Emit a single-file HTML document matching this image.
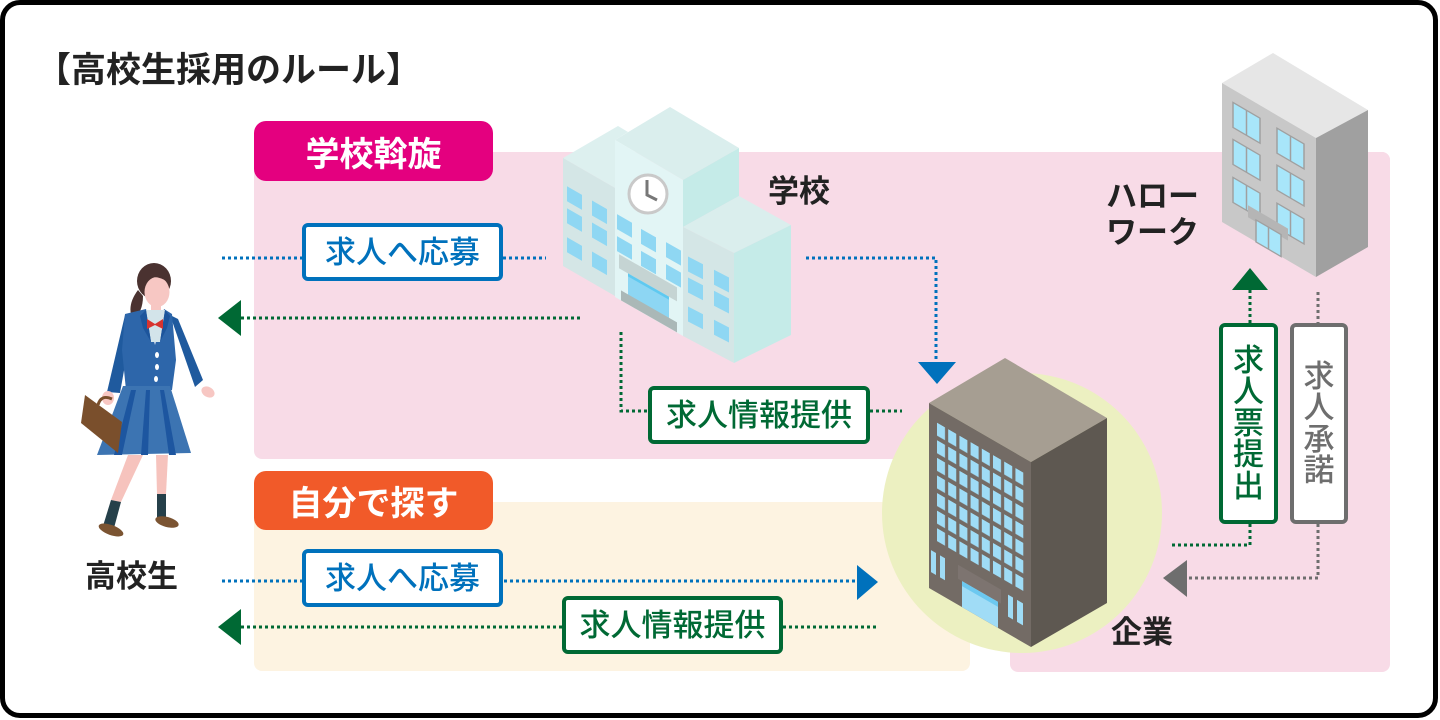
<!DOCTYPE html>
<html><head><meta charset="utf-8">
<style>
*{margin:0;padding:0;box-sizing:border-box}
body{width:1440px;height:720px;overflow:hidden;background:#fff;font-family:"Liberation Sans","Noto Sans CJK JP",sans-serif;position:relative}
.frame{position:absolute;left:0;top:0;width:1438px;height:718px;border:5px solid #000;border-radius:20px}
svg{position:absolute;left:0;top:0}
.t{position:absolute;white-space:nowrap;color:#222;font-weight:bold;font-size:31px;line-height:36px}
.box{position:absolute;background:#fff;border:4px solid;border-radius:6px;display:flex;align-items:center;justify-content:center;font-size:31px;white-space:nowrap;line-height:1;font-weight:500}
.blue{border-color:#0071bc;color:#0071bc}
.green{border-color:#006934;color:#006934}
.grey{border-color:#6e6e6e;color:#6e6e6e}
.vt{width:32px;text-align:center;line-height:31.4px;white-space:normal}
.tag{position:absolute;color:#fff;font-weight:bold;font-size:34px;display:flex;align-items:center;justify-content:center;border-radius:12px;white-space:nowrap}
</style></head>
<body>
<div class="frame"></div>
<svg width="1440" height="720" viewBox="0 0 1440 720">
<defs>
<pattern id="cw" patternUnits="userSpaceOnUse" x="8" y="15" width="11.2" height="17.6">
<rect x="0" y="0" width="8" height="13" fill="#9fdcf6"/>
</pattern>
</defs>
<!-- backgrounds -->
<rect x="254" y="152" width="1136" height="307" rx="8" fill="#f8dbe7"/>
<rect x="1010" y="152" width="380" height="520" rx="8" fill="#f8dbe7"/>
<rect x="254" y="502" width="716" height="169" rx="8" fill="#fdf3e1"/>
<circle cx="1022" cy="513" r="140" fill="#ecf0c1"/>

<!-- School building -->
<g>
<polygon points="563,158 618,126 628,132 615,140 615,188" fill="#ddf0ef"/>
<polygon points="563,158 615,188 615,296 563,266" fill="#d4e6e6"/>
<polygon points="615,140 670,107 739,148 683,180" fill="#daeeed"/>
<polygon points="615,140 683,180 683,336 615,297" fill="#e2f5f5"/>
<polygon points="683,180 739,148 739,196 683,227" fill="#c5ebe8"/>
<polygon points="683,227 739,196 791,225 734,253" fill="#daeeed"/>
<polygon points="683,227 734,253 734,363 683,336" fill="#d4e6e6"/>
<polygon points="734,253 791,225 791,335 734,363" fill="#c5ebe8"/>
<g transform="matrix(1,0.57,0,1,563,158)" fill="#8fd7f3">
<rect x="4" y="26" width="15" height="15"/><rect x="29" y="26" width="15" height="15"/>
<rect x="4" y="48" width="15" height="15"/><rect x="29" y="48" width="15" height="15"/>
<rect x="4" y="77" width="15" height="15"/><rect x="29" y="77" width="15" height="15"/>
</g>
<g transform="matrix(1,0.57,0,1,615,140)">
<g fill="#8fd7f3">
<rect x="2" y="73" width="15" height="15"/><rect x="26" y="74" width="15" height="15"/><rect x="51" y="73" width="15" height="15"/>
<rect x="2" y="95" width="15" height="15"/><rect x="26" y="96" width="15" height="15"/><rect x="51" y="95" width="15" height="15"/>
</g>
<rect x="4" y="112" width="58" height="14" fill="#c5d4d3"/>
<rect x="13" y="126" width="41" height="22" fill="#8dd6f3"/>
<rect x="13" y="126" width="41" height="3" fill="#5fc9f0"/>
<rect x="6" y="147" width="56" height="10" fill="#aab8b7"/>
</g>
<g transform="matrix(1,0.51,0,1,683,227)" fill="#8fd7f3">
<rect x="5" y="27" width="15" height="15"/><rect x="31" y="27" width="15" height="15"/>
<rect x="5" y="48" width="15" height="15"/><rect x="31" y="48" width="15" height="15"/>
<rect x="5" y="77" width="15" height="15"/><rect x="31" y="77" width="15" height="15"/>
</g>
<circle cx="648" cy="194" r="19" fill="#fff" stroke="#c9c9c9" stroke-width="3"/>
<path d="M647,180 L647,195 L657,200" fill="none" stroke="#777" stroke-width="3"/>
</g>

<!-- Hello work building -->
<g>
<polygon points="1222,83 1273,53 1368,110 1316,138" fill="#e6e6e6"/>
<polygon points="1222,83 1316,138 1316,277 1222,222" fill="#c8c8c8"/>
<polygon points="1316,138 1368,110 1368,247 1316,277" fill="#a0a0a0"/>
<g transform="matrix(1,0.585,0,1,1222,83)" stroke="#a0a0a0" stroke-width="1.5">
<g fill="#a8e6fa">
<rect x="11" y="13" width="27" height="25"/><rect x="55" y="13" width="27" height="25"/>
<rect x="11" y="50" width="27" height="25"/><rect x="55" y="50" width="27" height="25"/>
<rect x="11" y="88" width="27" height="25"/><rect x="55" y="88" width="27" height="25"/>
</g>
<path d="M24.5,13V38M68.5,13V38M24.5,50V75M68.5,50V75M24.5,88V113M68.5,88V113" fill="none"/>
<rect x="26" y="107" width="40" height="12" fill="#b5b5b5" stroke="none"/>
<rect x="34" y="117" width="25" height="22" fill="#a8e6fa"/>
<path d="M46.5,117V139" fill="none"/>
</g>
</g>

<!-- Company building -->
<g>
<polygon points="929,403 1005,358 1107,418 1031,462" fill="#a69e92"/>
<polygon points="929,403 1031,462 1031,647 929,588" fill="#736b65"/>
<polygon points="1031,462 1107,418 1107,603 1031,647" fill="#5e5851"/>
<g transform="matrix(1,0.578,0,1,929,403)">
<rect x="8" y="15" width="86.4" height="118.6" fill="url(#cw)"/>
<g fill="#9fdcf6">
<rect x="2" y="146" width="5" height="22"/><rect x="11" y="146" width="5" height="22"/>
<rect x="79" y="146" width="5" height="22"/><rect x="88" y="146" width="6" height="22"/>
</g>
<rect x="29" y="145" width="43" height="14" fill="#7d7470"/>
<rect x="33" y="159" width="36" height="26" fill="#a0dcf6"/>
<rect x="33" y="159" width="36" height="5" fill="#6cc8f0"/>
</g>
</g>

<!-- connectors -->
<g fill="none" stroke-width="3" stroke-dasharray="3 3">
<path d="M222,258H302M503,258H546M806,258H936V362M222,581H857" stroke="#0071bc"/>
<path d="M241,318H582M621,332V411H648M870,411H902M241,627H562M783,627H878M1250,290V323M1250,524V545H1170" stroke="#006934"/>
<path d="M1318,292V323M1318,524V578H1187" stroke="#6e6e6e"/>
</g>
<polygon points="218,318 241,300 241,336" fill="#006934"/>
<polygon points="218,627 241,609 241,645" fill="#006934"/>
<polygon points="878,582 857,565 857,600" fill="#0071bc"/>
<polygon points="937,384 918,362 956,362" fill="#0071bc"/>
<polygon points="1250,268 1232,290 1268,290" fill="#006934"/>
<polygon points="1163,578 1187,560 1187,597" fill="#6e6e6e"/>

<!-- Student -->
<g>
<path d="M138,290 Q126,306 133,320 Q143,312 143,296 Z" fill="#4a3230"/>
<ellipse cx="154" cy="281" rx="17" ry="18" fill="#4a3230"/>
<ellipse cx="157" cy="292" rx="12.5" ry="15" fill="#f7c7c3"/>
<path d="M141,285 Q150,270 170,283 Q165,272 154,268 Q141,270 141,285Z" fill="#4a3230"/>
<rect x="151" y="303" width="10" height="10" fill="#f7c7c3"/>
<path d="M125,315 L133,320 L120,393 L107,392 Z" fill="#1f5a9e"/>
<path d="M170,315 L178,319 L203,380 L195,387 Z" fill="#1f5a9e"/>
<path d="M125,314 L146,309 L155,345 L164,309 L172,314 L176,360 L172,390 L126,390 L122,350 Z" fill="#2d66aa"/>
<polygon points="146,310 165,310 160,342 151,342" fill="#d3e4ea"/>
<polygon points="146,310 151,342 143,328 140,316" fill="#1d559c"/>
<polygon points="165,310 160,342 167,328 170,316" fill="#1d559c"/>
<polygon points="147,319 155,324 163,319 163,329 155,325 147,329" fill="#d7332f"/>
<g fill="#fff"><ellipse cx="157" cy="355" rx="2" ry="3"/><ellipse cx="157" cy="367" rx="2" ry="3"/><ellipse cx="156" cy="379" rx="2" ry="3"/></g>
<ellipse cx="108" cy="398" rx="6" ry="7" fill="#f7c7c3"/>
<ellipse cx="208" cy="392" rx="7" ry="5" transform="rotate(30 208 392)" fill="#f7c7c3"/>
<polygon points="123,386 170,386 191,453 97,455" fill="#3c74b2"/>
<g fill="#1d56a0">
<polygon points="131,390 136,390 122,455 114,455"/>
<polygon points="146,390 150,390 148,455 141,455"/>
<polygon points="160,390 164,390 176,455 169,455"/>
</g>
<polygon points="128,455 143,455 121,502 111,500" fill="#f6c3bd"/>
<polygon points="156,455 168,455 166,494 157,494" fill="#f6c3bd"/>
<polygon points="111,500 121,502 114,528 103,526" fill="#26404a"/>
<polygon points="157,494 166,494 166,518 157,518" fill="#26404a"/>
<ellipse cx="111" cy="530" rx="13" ry="5" transform="rotate(20 111 530)" fill="#7b5432"/>
<ellipse cx="167" cy="522" rx="12" ry="5" transform="rotate(15 167 522)" fill="#7b5432"/>
<path d="M98,405 Q101,394 112,399" fill="none" stroke="#7a4f2c" stroke-width="3"/>
<polygon points="85,395 122,422 118,453 81,423" fill="#7a4f2c"/>
</g>
</svg>

<div class="t" style="left:36px;top:51px;font-size:35px;line-height:40px">【高校生採用のルール】</div>

<div class="tag" style="left:254px;top:121px;width:239px;height:60px;background:#e4007f">学校斡旋</div>
<div class="tag" style="left:254px;top:471px;width:239px;height:59px;background:#f15a29">自分で探す</div>

<div class="t" style="left:768px;top:174px">学校</div>
<div class="t" style="left:1106px;top:179px">ハロー</div>
<div class="t" style="left:1106px;top:215px">ワーク</div>
<div class="t" style="left:1111px;top:615px">企業</div>
<div class="t" style="left:85px;top:559px">高校生</div>

<div class="box blue" style="left:302px;top:223px;width:201px;height:58px">求人へ応募</div>
<div class="box green" style="left:648px;top:386px;width:222px;height:58px">求人情報提供</div>
<div class="box blue" style="left:302px;top:549px;width:201px;height:58px">求人へ応募</div>
<div class="box green" style="left:562px;top:596px;width:221px;height:58px">求人情報提供</div>
<div class="box green" style="left:1219px;top:323px;width:59px;height:201px"><div class="vt">求<br>人<br>票<br>提<br>出</div></div>
<div class="box grey" style="left:1290px;top:323px;width:58px;height:201px"><div class="vt">求<br>人<br>承<br>諾</div></div>
</body></html>
